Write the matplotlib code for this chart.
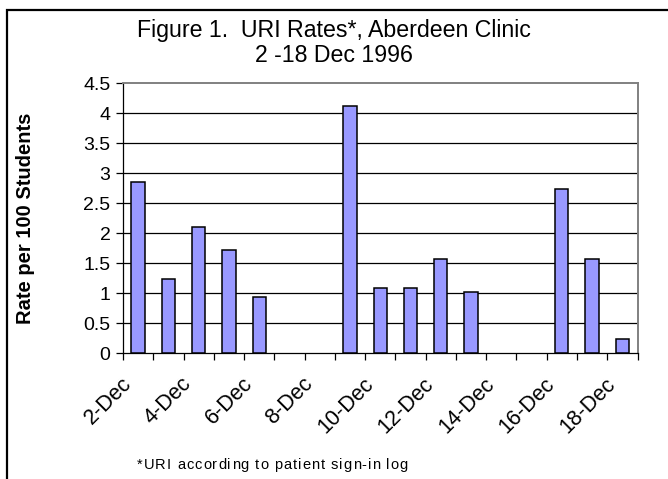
import numpy as np
import matplotlib.pyplot as plt
from matplotlib.patches import Rectangle
import matplotlib.transforms as mtransforms

plt.rcParams['font.family'] = ['Liberation Sans', 'DejaVu Sans']

days = [f"{d}-Dec" for d in range(2, 19)]
rates = [2.85, 1.23, 2.10, 1.71, 0.93, 0, 0, 4.12, 1.09, 1.09, 1.57, 1.01, 0, 0, 2.74, 1.57, 0.24]
yticks = [0, 0.5, 1, 1.5, 2, 2.5, 3, 3.5, 4, 4.5]
ytick_labels = ['0', '0.5', '1', '1.5', '2', '2.5', '3', '3.5', '4', '4.5']
footnote = '*URI according to patient sign-in log'

fig = plt.figure(figsize=(6.68, 4.79), dpi=100)
ax = fig.add_axes([123 / 668, 126 / 479, 514.5 / 668, 270 / 479])

# outer chart frame (runs off the right and bottom edges)
fig.patches.append(Rectangle((7 / 668, -0.1), 1.1, (479 - 10) / 479 + 0.1,
                             transform=fig.transFigure, fill=False,
                             edgecolor='black', linewidth=1.6))

x = np.arange(len(days))
bars = ax.bar(x, rates, width=0.44, color='#9999FF', edgecolor='black', linewidth=1.1, zorder=3)
for b, r in zip(bars, rates):
    if r == 0:
        b.set_linewidth(0)

ax.set_xlim(-0.5, len(days) - 0.5)
ax.set_ylim(0, 4.5)
ax.set_yticks(yticks)
ax.set_yticklabels(ytick_labels, fontsize=14)
for yv in yticks[1:-1]:
    ax.axhline(yv, color='black', linewidth=0.9, zorder=1)

# ticks between categories
ax.set_xticks(np.arange(-0.5, len(days), 1.0))
ax.set_xticklabels([])
ax.tick_params(axis='x', direction='out', length=5, width=0.9, color='black')
ax.tick_params(axis='y', direction='out', length=5, width=0.9, color='black', pad=4)

# every other day label, rotated
offset = mtransforms.ScaledTranslation(-10 / 100, -28 / 100, fig.dpi_scale_trans)
for i in range(0, len(days), 2):
    ax.text(i, 0, days[i], rotation=45, ha='right', va='center', rotation_mode='anchor',
            fontsize=15.5, transform=ax.transData + offset)

for side in ['top', 'right']:
    ax.spines[side].set_color('#808080')
    ax.spines[side].set_linewidth(1.4)
ax.spines['left'].set_color('black')
ax.spines['bottom'].set_color('black')
ax.spines['left'].set_linewidth(0.9)
ax.spines['bottom'].set_linewidth(0.9)

ax.set_ylabel('Rate per 100 Students', fontsize=14.5, fontweight='bold')
ax.yaxis.set_label_coords(-88 / 514.5, 0.5)

fig.text(0.5, 1 - 30 / 479, 'Figure 1.  URI Rates*, Aberdeen Clinic', ha='center', va='center', fontsize=16.7)
fig.text(0.5, 1 - 56 / 479, '2 -18 Dec 1996', ha='center', va='center', fontsize=16.7)

# footnote drawn letter by letter to get the slightly wide spacing of the original
renderer = fig.canvas.get_renderer()
fx = 137.0
for ch in footnote:
    t = fig.text(fx / 668, 1 - 465 / 479, ch, ha='left', va='center', fontsize=10.5)
    w_pair = renderer.get_text_width_height_descent('a' + ch + 'a', t.get_fontproperties(), ismath=False)[0]
    w_aa = renderer.get_text_width_height_descent('aa', t.get_fontproperties(), ismath=False)[0]
    fx += (w_pair - w_aa) + 1.0

fig.savefig('out.png', dpi=100)
